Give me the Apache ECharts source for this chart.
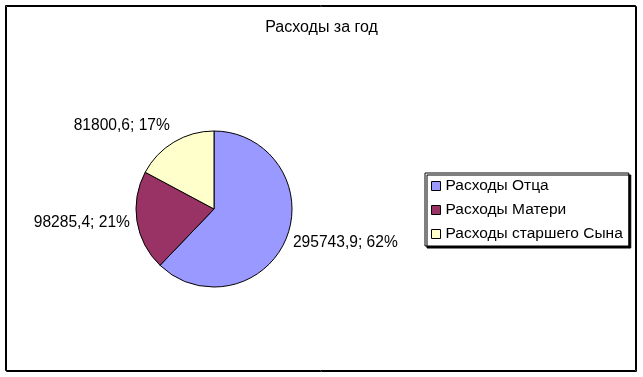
<!DOCTYPE html>
<html>
<head>
<meta charset="utf-8">
<script src="https://cdn.jsdelivr.net/npm/echarts@6/dist/echarts.min.js"></script>
<style>
html,body{margin:0;padding:0;background:#fff;}
#chart{width:643px;height:377px;}
</style>
</head>
<body>
<div id="chart"></div>
<script>
var title = 'Расходы за год';
var categories = ['Расходы Отца', 'Расходы Матери', 'Расходы старшего Сына'];
var values = [295743.9, 98285.4, 81800.6];
var percents = [62, 21, 17];
var colors = ['#9999FF', '#993366', '#FFFFCC'];
var labelNudges = [[1.5, 5], [-2, 1.5], [1, -16]];

function fmt(v) { return String(v).replace('.', ','); }

var chart = echarts.init(document.getElementById('chart'), null, {renderer: 'canvas'});
var option = {
  backgroundColor: '#ffffff',
  animation: false,
  title: {
    text: title,
    left: 'center',
    top: 15,
    textStyle: {fontFamily: 'Liberation Sans, Arial', fontSize: 16, fontWeight: 'normal', color: '#000'}
  },
  legend: {
    orient: 'vertical',
    left: 425,
    top: 173,
    padding: [4, 6, 3, 6],
    itemWidth: 9,
    itemHeight: 9,
    itemGap: 6,
    icon: 'rect',
    backgroundColor: '#fff',
    borderColor: '#000',
    borderWidth: 1,
    shadowColor: '#000',
    shadowBlur: 0,
    shadowOffsetX: 2,
    shadowOffsetY: 2,
    itemStyle: {borderColor: '#000', borderWidth: 1},
    textStyle: {fontFamily: 'Liberation Sans, Arial', fontSize: 15.5, lineHeight: 18, color: '#000'},
    data: categories
  },
  graphic: [{
    type: 'rect',
    shape: {x: 5.5, y: 5.5, width: 630, height: 365},
    style: {fill: 'none', stroke: '#000', lineWidth: 1, shadowColor: '#000', shadowOffsetX: 1, shadowOffsetY: 1, shadowBlur: 0},
    silent: true,
    z: 0
  }],
  series: [{
    type: 'pie',
    center: [214, 209],
    radius: 78,
    startAngle: 90,
    clockwise: true,
    avoidLabelOverlap: false,
    itemStyle: {borderColor: '#000', borderWidth: 1},
    label: {
      show: true,
      position: 'outside',
      distanceToLabelLine: 5,
      fontFamily: 'Liberation Sans, Arial',
      fontSize: 15.6,
      color: '#000',
      formatter: function (p) { return fmt(values[p.dataIndex]) + '; ' + percents[p.dataIndex] + '%'; }
    },
    labelLine: {show: false, length: 0, length2: 0},
    labelLayout: function (p) {
      var n = labelNudges[p.dataIndex];
      return {dx: n[0], dy: n[1]};
    },
    emphasis: {disabled: true},
    data: categories.map(function (c, i) {
      return {name: c, value: values[i], itemStyle: {color: colors[i]}};
    })
  }]
};
chart.setOption(option);
</script>
</body>
</html>
